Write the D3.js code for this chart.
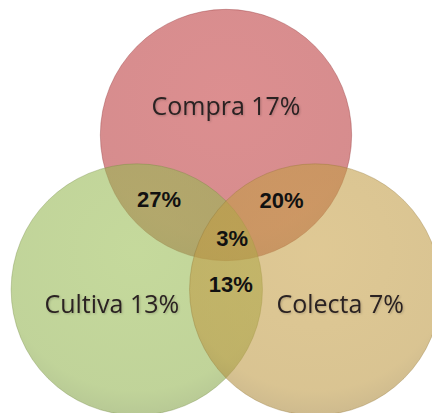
<!DOCTYPE html>
<html>
<head>
<meta charset="utf-8">
<script src="https://cdn.jsdelivr.net/npm/d3@7"></script>
<style>
  body { margin: 0; background: #fff; }
  svg { display: block; }
</style>
</head>
<body>
<div class="venn-container"></div>
<script>
// data
var sets = ['Compra', 'Cultiva', 'Colecta'];
var setShare = [17, 13, 7];
var pairs = [['Compra', 'Cultiva'], ['Compra', 'Colecta'], ['Cultiva', 'Colecta']];
var pairShare = [27, 20, 13];
var tripleShare = 3;

var colorVenn = d3.scaleOrdinal().domain(sets).range(['#b93a3c', '#93b450', '#be9943']);

var width = 432, height = 413;

// unit layout -> pixels
var unit = 103,
	cx = 226, cy = 238;
var xVenn = d3.scaleLinear().domain([-1, 1]).range([cx - unit, cx + unit]),
	yVenn = d3.scaleLinear().domain([-1, 1]).range([cy - unit, cy + unit]);
var rUnit = 1.22;

var angle = {Compra: -90, Cultiva: 150, Colecta: 30};
function pt(deg, dist) {
	var a = deg * Math.PI / 180;
	return [xVenn(dist * Math.cos(a)), yVenn(dist * Math.sin(a))];
}

var svg = d3.select('.venn-container').append('svg')
	.attr('width', width)
	.attr('height', height);

var defs = svg.append('defs');
sets.forEach(function(s) {
	var g = defs.append('radialGradient')
		.attr('id', 'grad-' + s)
		.attr('cx', '50%').attr('cy', '35%').attr('r', '65%');
	var c = d3.color(colorVenn(s));
	g.append('stop').attr('offset', '0%').attr('stop-color', c.brighter(0.15));
	g.append('stop').attr('offset', '85%').attr('stop-color', c);
	g.append('stop').attr('offset', '100%').attr('stop-color', c.darker(0.3));
});
var shadow = defs.append('filter').attr('id', 'txtshadow')
	.attr('x', '-10%').attr('y', '-10%').attr('width', '120%').attr('height', '130%');
shadow.append('feDropShadow').attr('dx', 1).attr('dy', 1).attr('stdDeviation', 0.8)
	.attr('flood-color', '#000').attr('flood-opacity', 0.2);

// circles
svg.selectAll('.set')
	.data(sets)
	.enter().append('circle')
	.attr('class', 'set')
	.attr('cx', function(d) { return pt(angle[d], 1)[0]; })
	.attr('cy', function(d) { return pt(angle[d], 1)[1]; })
	.attr('r', xVenn(rUnit) - xVenn(0))
	.style('fill', function(d) { return 'url(#grad-' + d + ')'; })
	.style('fill-opacity', 0.58)
	.style('stroke', function(d) { return d3.color(colorVenn(d)).darker(0.8); })
	.style('stroke-opacity', 0.35)
	.style('stroke-width', 1);

// set labels
svg.selectAll('.set-label')
	.data(sets)
	.enter().append('text')
	.attr('class', 'set-label')
	.attr('x', function(d) { return pt(angle[d], 1.28)[0]; })
	.attr('y', function(d) { return pt(angle[d], 1.28)[1]; })
	.attr('dy', '0.35em')
	.attr('text-anchor', 'middle')
	.attr('filter', 'url(#txtshadow)')
	.style('font-family', '"Open Sans", sans-serif')
	.style('font-size', '25px')
	.style('fill', '#2b2222')
	.text(function(d, i) { return d + ' ' + setShare[i] + '%'; });

// overlap labels
var pairPos = [[-150, 0.75], [-34, 0.65], [84, 0.45]];
svg.selectAll('.pair-label')
	.data(pairs)
	.enter().append('text')
	.attr('class', 'pair-label')
	.attr('x', function(d, i) { return pt(pairPos[i][0], pairPos[i][1])[0]; })
	.attr('y', function(d, i) { return pt(pairPos[i][0], pairPos[i][1])[1]; })
	.attr('dy', '0.35em')
	.attr('text-anchor', 'middle')
	.style('font-family', '"Liberation Sans", Arial, sans-serif')
	.style('font-weight', 'bold')
	.style('font-size', '22px')
	.style('fill', '#111')
	.text(function(d, i) { return pairShare[i] + '%'; });

svg.append('text')
	.attr('class', 'triple-label')
	.attr('x', pt(0, 0.06)[0])
	.attr('y', pt(0, 0.06)[1])
	.attr('dy', '0.35em')
	.attr('text-anchor', 'middle')
	.style('font-family', '"Liberation Sans", Arial, sans-serif')
	.style('font-weight', 'bold')
	.style('font-size', '22px')
	.style('fill', '#111')
	.text(tripleShare + '%');
</script>
</body>
</html>
